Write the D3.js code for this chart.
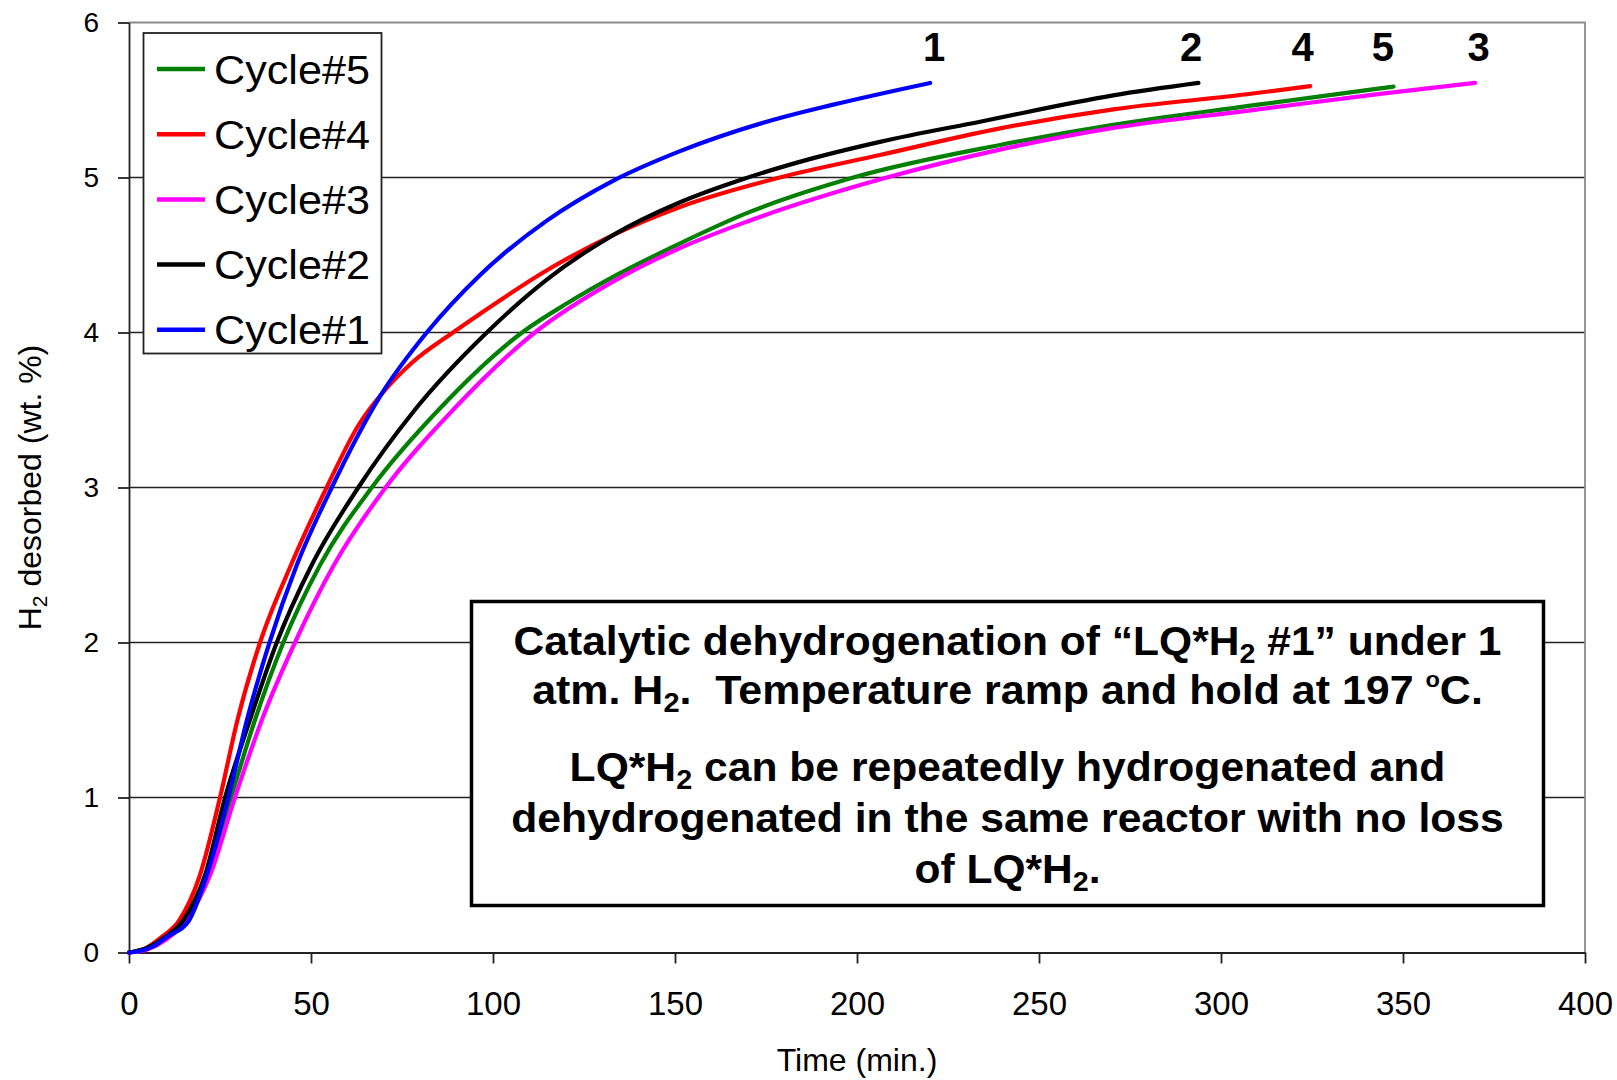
<!DOCTYPE html>
<html>
<head>
<meta charset="utf-8">
<script src="https://cdn.jsdelivr.net/npm/d3@7"></script>
<style>
  html, body { margin: 0; padding: 0; background: #fff; }
  svg { display: block; font-family: "Liberation Sans", Arial, sans-serif; }
</style>
</head>
<body>
<svg id="chart" width="1617" height="1080"></svg>
<script>
// ---------------- DATA ----------------
const seriesNames = ["Cycle#5", "Cycle#4", "Cycle#3", "Cycle#2", "Cycle#1"];
const endLabels   = ["5", "4", "3", "2", "1"];
const endLabelTimes = [344.5, 322.4, 370.8, 291.8, 221.2];

const cycle1Time = [0, 3, 6.7, 10.4, 16.3, 21.4, 27.3, 32.4, 38.6, 46.1, 55.7, 69, 81.8, 96.4, 114.7, 133.1, 151.4, 175.2, 193.5, 220.1];
const cycle1H2   = [0, 0.01, 0.04, 0.1, 0.2, 0.5, 1.0, 1.5, 2.0, 2.5, 3.0, 3.59, 4.0, 4.37, 4.72, 4.98, 5.17, 5.36, 5.47, 5.61];

const cycle2Time = [0, 5, 10, 15, 20.9, 26.4, 33.2, 40.6, 50.2, 63, 78.5, 98.3, 114.7, 133.1, 151.4, 168.8, 188, 206.3, 233.8, 270.4, 293.8];
const cycle2H2   = [0, 0.03, 0.1, 0.21, 0.5, 1.0, 1.5, 2.0, 2.5, 3.0, 3.5, 4.0, 4.34, 4.63, 4.84, 4.99, 5.125, 5.23, 5.36, 5.53, 5.61];

const cycle3Time = [0, 5, 10, 15.4, 22.3, 29.1, 36.5, 45.6, 56.3, 70.5, 89, 111.5, 133.1, 151.4, 169.7, 208.2, 239.3, 270.4, 307.1, 343.7, 369.8];
const cycle3H2   = [0, 0.02, 0.08, 0.2, 0.5, 1.0, 1.5, 2.0, 2.5, 3.0, 3.5, 4.0, 4.33, 4.545, 4.715, 5.0, 5.18, 5.32, 5.43, 5.54, 5.61];

const cycle4Time = [0, 4, 9, 13.6, 19.5, 25, 29.8, 36, 44.5, 54.3, 63, 70, 77.5, 89, 96.4, 114.7, 133.1, 151.4, 178.8, 206.3, 239.3, 270.4, 307.1, 324.5];
const cycle4H2   = [0, 0.02, 0.1, 0.2, 0.5, 1.0, 1.5, 2.0, 2.5, 3.0, 3.4, 3.62, 3.8, 4.0, 4.12, 4.40, 4.63, 4.81, 5.0, 5.145, 5.317, 5.44, 5.537, 5.59];

const cycle5Time = [0, 5, 10, 15.2, 21.4, 28, 34.6, 42.4, 52.5, 66.7, 85, 108, 120.5, 133.1, 151.4, 169.7, 199, 239.3, 270.4, 307.1, 343.7, 347.4];
const cycle5H2   = [0, 0.03, 0.1, 0.2, 0.5, 1.0, 1.5, 2.0, 2.5, 3.0, 3.5, 4.0, 4.19, 4.36, 4.575, 4.77, 5.0, 5.21, 5.34, 5.46, 5.575, 5.586];

const xTicks = [0, 50, 100, 150, 200, 250, 300, 350, 400];
const yTicks = [0, 1, 2, 3, 4, 5, 6];
const gridValues = [1, 2, 3, 4, 5];

const xTitle = "Time (min.)";
const noteLines = [
  [{t: "Catalytic dehydrogenation of \u201CLQ*H"}, {t: "2", sub: true}, {t: " #1\u201D under 1"}],
  [{t: "atm. H"}, {t: "2", sub: true}, {t: ".\u00A0 Temperature ramp and hold at 197 "}, {t: "o", sup: true}, {t: "C."}],
  [{t: "LQ*H"}, {t: "2", sub: true}, {t: " can be repeatedly hydrogenated and"}],
  [{t: "dehydrogenated in the same reactor with no loss"}],
  [{t: "of LQ*H"}, {t: "2", sub: true}, {t: "."}]
];

// series in drawing order (Cycle#5 first, Cycle#1 on top)
const seriesTimes = [cycle5Time, cycle4Time, cycle3Time, cycle2Time, cycle1Time];
const seriesValues = [cycle5H2, cycle4H2, cycle3H2, cycle2H2, cycle1H2];
const seriesColors = ["#008000", "#FF0000", "#FF00FF", "#000000", "#0000FF"];

// ---------------- CHART ----------------
const svg = d3.select("#chart");
const x = d3.scaleLinear().domain([0, 400]).range([129, 1585]);
const y = d3.scaleLinear().domain([0, 6]).range([952.5, 22.5]);
const FONT = '"Liberation Sans", Arial, sans-serif';

// gridlines
svg.append("g").selectAll("line").data(gridValues).join("line")
  .attr("x1", x(0)).attr("x2", x(400))
  .attr("y1", d => y(d)).attr("y2", d => y(d))
  .attr("stroke", "#222").attr("stroke-width", 1.6);

// top/right frame (grey)
svg.append("path")
  .attr("d", `M${x(0)},${y(6)}H${x(400)}V${y(0)}`)
  .attr("fill", "none").attr("stroke", "#8c8c8c").attr("stroke-width", 1.8);

// axes
const xAxis = svg.append("g").attr("transform", `translate(0,${y(0)})`)
  .call(d3.axisBottom(x).tickValues(xTicks).tickSize(11).tickSizeOuter(0).tickPadding(28).tickFormat(d3.format("d")));
const yAxis = svg.append("g").attr("transform", `translate(${x(0)},0)`)
  .call(d3.axisLeft(y).tickValues(yTicks).tickSize(11).tickSizeOuter(0).tickPadding(19).tickFormat(d3.format("d")));
[xAxis, yAxis].forEach(g => {
  g.select(".domain").attr("stroke", "#222").attr("stroke-width", 1.8);
  g.selectAll(".tick line").attr("stroke", "#222").attr("stroke-width", 1.8);
  g.selectAll("text").attr("fill", "#000").style("font-family", FONT);
});
xAxis.selectAll("text").style("font-size", "33px");
yAxis.selectAll("text").style("font-size", "28px");

// axis titles
svg.append("text").attr("x", (x(0) + x(400)) / 2).attr("y", 1071)
  .attr("text-anchor", "middle").style("font-size", "32px").style("font-family", FONT)
  .text(xTitle);
const yt = svg.append("text").attr("transform", `translate(41,${(y(0) + y(6)) / 2}) rotate(-90)`)
  .attr("text-anchor", "middle").style("font-size", "32px").style("font-family", FONT);
yt.append("tspan").text("H");
yt.append("tspan").attr("baseline-shift", "-0.28em").style("font-size", "21px").text("2");
yt.append("tspan").text(" desorbed (wt. %)");

// lines
const line = d3.line().x(d => x(d[0])).y(d => y(d[1])).curve(d3.curveMonotoneX);
seriesTimes.forEach((ts, i) => {
  const pts = ts.map((t, k) => [t, seriesValues[i][k]]);
  svg.append("path").datum(pts)
    .attr("d", line).attr("fill", "none")
    .attr("stroke", seriesColors[i]).attr("stroke-width", 4.2)
    .attr("stroke-linejoin", "round").attr("stroke-linecap", "round");
});

// end labels
endLabels.forEach((lab, i) => {
  svg.append("text").attr("x", x(endLabelTimes[i])).attr("y", 61)
    .attr("text-anchor", "middle").style("font-size", "40px").style("font-weight", "bold")
    .style("font-family", FONT).text(lab);
});

// legend (listed Cycle#5 .. Cycle#1)
const lg = svg.append("g");
lg.append("rect").attr("x", 143.5).attr("y", 33).attr("width", 238).attr("height", 320.5)
  .attr("fill", "#fff").attr("stroke", "#222").attr("stroke-width", 1.8);
seriesNames.forEach((name, i) => {
  const cy = 69 + i * 65.2;
  lg.append("line").attr("x1", 157).attr("x2", 205).attr("y1", cy).attr("y2", cy)
    .attr("stroke", seriesColors[i]).attr("stroke-width", 4.5);
  lg.append("text").attr("x", 214).attr("y", cy + 14.5)
    .style("font-size", "40px").style("font-family", FONT)
    .attr("textLength", 156).attr("lengthAdjust", "spacingAndGlyphs")
    .text(name);
});

// annotation box
const box = svg.append("g");
box.append("rect").attr("x", 471.5).attr("y", 601.5).attr("width", 1072).attr("height", 304)
  .attr("fill", "#fff").attr("stroke", "#000").attr("stroke-width", 3.5);
const noteBaselines = [655, 704, 781, 832, 883];
const noteWidths = [988, 951, 876, 993, 186];
const cx = 1007.5;
noteLines.forEach((segs, i) => {
  const t = box.append("text").attr("x", cx).attr("y", noteBaselines[i])
    .attr("text-anchor", "middle").style("font-size", "40px").style("font-weight", "bold")
    .style("font-family", FONT);
  segs.forEach(s => {
    const ts = t.append("tspan").text(s.t);
    if (s.sub) ts.attr("baseline-shift", "-0.3em").style("font-size", "27px");
    if (s.sup) ts.attr("baseline-shift", "0.8em").style("font-size", "22px");
  });
  const w = t.node().getBBox().width;
  const k = noteWidths[i] / w;
  t.attr("transform", `translate(${cx},0) scale(${k},1) translate(${-cx},0)`);
});
</script>
</body>
</html>
